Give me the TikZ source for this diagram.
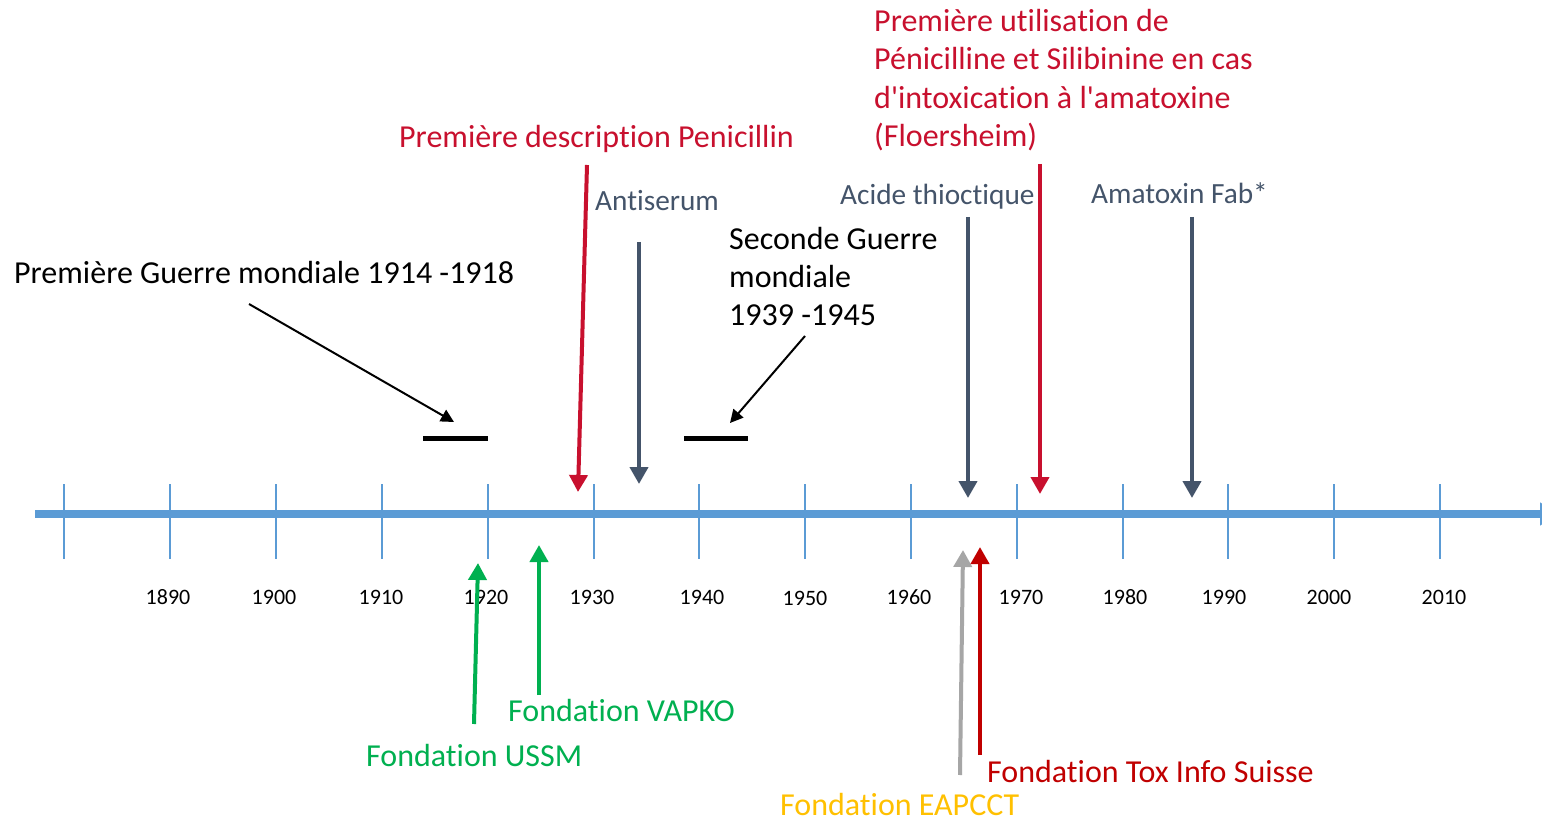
\documentclass[tikz,border=0pt]{standalone}
\usepackage{fontspec}
\setmainfont{Carlito}[Ligatures=NoCommon]
\usetikzlibrary{arrows.meta}
\definecolor{axisblue}{HTML}{5B9BD5}
\definecolor{slate}{HTML}{44546A}
\definecolor{crimson}{HTML}{C8102E}
\definecolor{fgreen}{HTML}{00B050}
\definecolor{gold}{HTML}{FFC000}
\definecolor{dred}{HTML}{C00000}
\definecolor{lgray}{HTML}{A6A6A6}
\begin{document}
\begin{tikzpicture}[x=1pt,y=-1pt,
  lbl/.style={anchor=west, inner sep=0pt, font=\fontsize{32}{38.3}\selectfont, align=left},
  slbl/.style={lbl, text=slate, font=\fontsize{29.3}{35}\selectfont},
  yr/.style={inner sep=0pt, font=\fontsize{22}{26}\selectfont},
  tick/.style={axisblue, line width=1.4pt},
  ev/.style={line width=4pt, -{Triangle[width=18pt,length=17pt]}},
  war/.style={line width=2pt, -{Triangle[width=13pt,length=13pt]}},
  warbar/.style={line width=5pt}]
\useasboundingbox (0,0) rectangle (1542,821);
\clip (0,0) rectangle (1542,821);
\fill[white] (0,0) rectangle (1542,821);

% axis
\coordinate (axA) at (35,514);
\coordinate (axB) at (1558,514);
\draw[axisblue, line width=8pt, -{Triangle[width=22pt,length=18pt]}] (axA) -- (axB);
\foreach \x in {64,170,276,382,488,594,699,805,911,1017,1123,1228,1334,1440}
  \draw[tick] (\x,484) -- (\x,559);

% year labels
\node[yr] (y1890) at (168,597) {1890};
\node[yr] (y1900) at (274,597) {1900};
\node[yr] (y1910) at (381,597) {1910};
\node[yr] (y1920) at (486,597) {1920};
\node[yr] (y1930) at (592,597) {1930};
\node[yr] (y1940) at (702,597) {1940};
\node[yr] (y1950) at (805,598) {1950};
\node[yr] (y1960) at (909,597) {1960};
\node[yr] (y1970) at (1021,597) {1970};
\node[yr] (y1980) at (1125,597) {1980};
\node[yr] (y1990) at (1224,597) {1990};
\node[yr] (y2000) at (1329,597) {2000};
\node[yr] (y2010) at (1444,597) {2010};

% labels above
\node[lbl] (ww1) at (14,273) {Première Guerre mondiale 1914 -1918};
\node[lbl] (ww2) at (729,276.5) {Seconde Guerre\\mondiale\\1939 -1945};
\node[lbl, text=crimson] (pen) at (399,138.5) {Première description Penicillin};
\node[lbl, text=crimson] (flo) at (874,80) {Première utilisation de\\Pénicilline et Silibinine en cas\\d\textquotesingle intoxication à l\textquotesingle amatoxine\\(Floersheim)};
\node[slbl] (ser) at (595,201) {Antiserum};
\node[slbl] (aci) at (840,197) {Acide thioctique};
\node[slbl] (ama) at (1091,193) {Amatoxin Fab*};

% labels below
\node[lbl, text=fgreen] (vapko) at (508,711) {Fondation VAPKO};
\node[lbl, text=fgreen] (ussm) at (366,756) {Fondation USSM};
\node[lbl, text=gold] (eap) at (780,805) {Fondation EAPCCT};
\node[lbl, text=dred] (tox) at (987,772) {Fondation Tox Info Suisse};

% war bars
\coordinate (b1a) at (423,438); \coordinate (b1b) at (488,438);
\coordinate (b2a) at (684,438); \coordinate (b2b) at (748,438);
\draw[warbar] (b1a) -- (b1b);
\draw[warbar] (b2a) -- (b2b);

% war arrows
\coordinate (w1s) at (249,304); \coordinate (w1e) at (454,422);
\coordinate (w2s) at (805,336); \coordinate (w2e) at (730,423);
\draw[war] (w1s) -- (w1e);
\draw[war] (w2s) -- (w2e);

% event arrows from above
\coordinate (pens) at (587,165); \coordinate (pene) at (578,492);
\draw[ev, crimson] (pens) -- (pene);
\coordinate (sers) at (639,242); \coordinate (sere) at (639,484);
\draw[ev, slate] (sers) -- (sere);
\coordinate (acis) at (968,217); \coordinate (acie) at (968,498);
\draw[ev, slate] (acis) -- (acie);
\coordinate (flos) at (1040,164); \coordinate (floe) at (1040,494);
\draw[ev, crimson] (flos) -- (floe);
\coordinate (amas) at (1192,217); \coordinate (amae) at (1192,498);
\draw[ev, slate] (amas) -- (amae);

% event arrows from below
\coordinate (ussms) at (474,724); \coordinate (ussme) at (478,563);
\draw[ev, fgreen] (ussms) -- (ussme);
\coordinate (vapkos) at (539,695); \coordinate (vapkoe) at (539,545);
\draw[ev, fgreen] (vapkos) -- (vapkoe);
\coordinate (eaps) at (960,775); \coordinate (eape) at (963,550);
\draw[ev, lgray] (eaps) -- (eape);
\coordinate (toxs) at (980,755); \coordinate (toxe) at (980,547);
\draw[ev, dred] (toxs) -- (toxe);
\end{tikzpicture}
\end{document}
